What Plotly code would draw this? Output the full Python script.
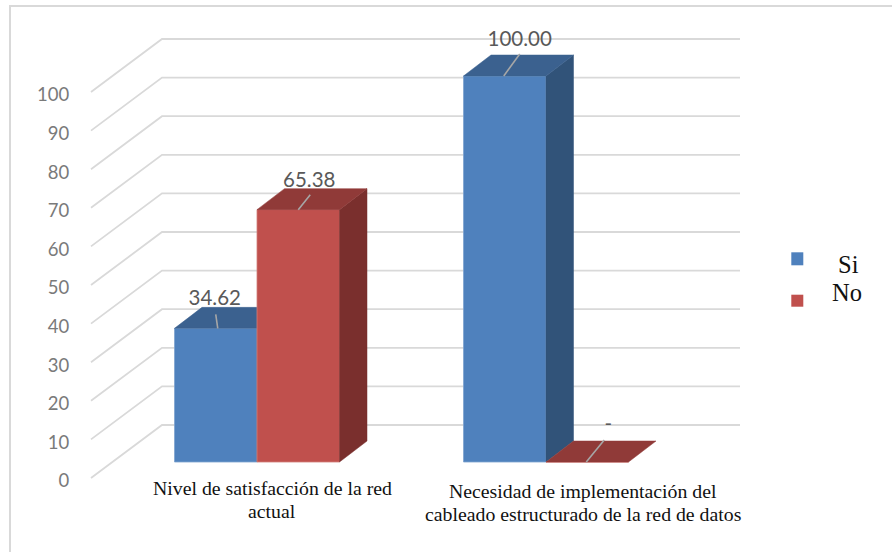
import plotly.graph_objects as go

# ---- data ----
categories = ["Nivel de satisfacción de la red<br>actual",
              "Necesidad de implementación del<br>cableado estructurado de la red de datos"]
series_si = [34.62, 100.00]
series_no = [65.38, 0.00]
labels_si = ["34.62", "100.00"]
labels_no = ["65.38", "-"]
tick_values = list(range(0, 101, 10))

# ---- page geometry (the plot area fills the page, so scales are px per unit) ----
W, H = 892, 552
GROUP0_PX, GROUP_STEP_PX = 257.0, 289.0
PX_PER_VALUE = 3.86
BAR_PLANE_ZERO_PX = 462.0
WALL_ZERO_PX = 478.0


def cat_x(px):
    return (px - GROUP0_PX) / GROUP_STEP_PX


def px_x(dpx):
    return dpx / GROUP_STEP_PX


def px_v(dpx):
    return dpx / PX_PER_VALUE


BAR_W = 82.5 / GROUP_STEP_PX
DEPTH_X = px_x(27.5)
DEPTH_V = px_v(21.0)
WALL_X0, WALL_X1, WALL_X2 = cat_x(91), cat_x(162), cat_x(740)
WALL_RISE = px_v(53.0)

x_range = [cat_x(0), cat_x(W)]
bar_y_range = [(BAR_PLANE_ZERO_PX - H) / PX_PER_VALUE, BAR_PLANE_ZERO_PX / PX_PER_VALUE]
wall_y_range = [(WALL_ZERO_PX - H) / PX_PER_VALUE, WALL_ZERO_PX / PX_PER_VALUE]

# ---- colours ----
GRID = "#d9d9d9"
BLUE, BLUE_TOP, BLUE_SIDE = "#4f81bd", "#3b618f", "#315379"
RED, RED_TOP, RED_SIDE = "#c0504d", "#903a38", "#7a2f2d"

fig = go.Figure()

# Wall grid: a diagonal up the side wall, then a line along the back wall
gx, gy = [], []
for t in tick_values:
    gx += [WALL_X0, WALL_X1, WALL_X2, None]
    gy += [t, t + WALL_RISE, t + WALL_RISE, None]
fig.add_trace(go.Scatter(x=gx, y=gy, mode="lines", yaxis="y",
                         line=dict(color=GRID, width=1.8),
                         hoverinfo="skip", showlegend=False))


def add_series(values, offset, front, top, side, yaxis):
    """Front faces as bars, with top and side faces projected from the same values."""
    fig.add_trace(go.Bar(x=[0, 1], y=values, width=BAR_W, offset=offset, yaxis=yaxis,
                         marker=dict(color=front, line=dict(color="#7fa3cf" if front == BLUE else "#d27d7a", width=0.8)),
                         hoverinfo="skip", showlegend=False))
    for i, v in enumerate(values):
        x0, x1 = i + offset, i + offset + BAR_W
        if v > 0:
            fig.add_trace(go.Scatter(
                x=[x1, x1 + DEPTH_X, x1 + DEPTH_X, x1, x1],
                y=[0, DEPTH_V, v + DEPTH_V, v, 0],
                mode="lines", fill="toself", fillcolor=side, yaxis=yaxis,
                line=dict(color=side, width=0.5), hoverinfo="skip", showlegend=False))
        fig.add_trace(go.Scatter(
            x=[x0, x1, x1 + DEPTH_X, x0 + DEPTH_X, x0],
            y=[v, v, v + DEPTH_V, v + DEPTH_V, v],
            mode="lines", fill="toself", fillcolor=top, yaxis=yaxis,
            line=dict(color=top, width=0.5), hoverinfo="skip", showlegend=False))


add_series(series_si, -BAR_W, BLUE, BLUE_TOP, BLUE_SIDE, "y2")
add_series(series_no, 0.0, RED, RED_TOP, RED_SIDE, "y3")

# Value labels with their leader lines, placed relative to each bar's top
# (start dx, end dx, end rise, label dx, label rise) in pixels from the bar centre
label_rows = [
    (series_si[0], labels_si[0], -BAR_W / 2, (2, 0, 14, -1, 28)),
    (series_no[0], labels_no[0], BAR_W / 2, (0, 12, 15, 11, 28)),
    (series_si[1], labels_si[1], 1 - BAR_W / 2, (-1, 15, 22, 15, 35)),
    (series_no[1], labels_no[1], 1 + BAR_W / 2, (-1, 17, 22, 21, 36)),
]
for v, txt, cx, (sdx, edx, rise, ldx, lrise) in label_rows:
    fig.add_trace(go.Scatter(x=[cx + px_x(sdx), cx + px_x(edx)], y=[v, v + px_v(rise)],
                             mode="lines", yaxis="y3",
                             line=dict(color="#a6a6a6", width=1.6),
                             hoverinfo="skip", showlegend=False))
    fig.add_trace(go.Scatter(x=[cx + px_x(ldx)], y=[v + px_v(lrise)], mode="text",
                             text=[txt], textposition="middle center", yaxis="y3",
                             textfont=dict(family="Lato", size=20.5, color="#595959"),
                             hoverinfo="skip", showlegend=False))

# Category captions, one annotation per line
caption_anchor = [(272, 488), (583, 491)]
LINE_PX = 23
annotations = []
for cat, (cx, cy) in zip(categories, caption_anchor):
    for n, part in enumerate(cat.split("<br>")):
        annotations.append(dict(
            x=cx / W, y=1 - (cy + n * LINE_PX) / H, xref="paper", yref="paper",
            text=part, showarrow=False, xanchor="center", yanchor="middle",
            font=dict(family="Liberation Serif", size=19.8, color="#111111")))

# Legend entries
annotations += [
    dict(x=848 / W, y=1 - 264 / H, xref="paper", yref="paper", text="Si", showarrow=False,
         xanchor="center", yanchor="middle",
         font=dict(family="Liberation Serif", size=24.5, color="#111111")),
    dict(x=846.5 / W, y=1 - 292 / H, xref="paper", yref="paper", text="No", showarrow=False,
         xanchor="center", yanchor="middle",
         font=dict(family="Liberation Serif", size=24.5, color="#111111")),
]


def paper_rect(x0, y0, x1, y1, **kw):
    return dict(type="rect", xref="paper", yref="paper", x0=x0 / W, x1=x1 / W,
                y0=1 - y1 / H, y1=1 - y0 / H, **kw)


shapes = [
    paper_rect(10, 6, W + 20, H + 20, line=dict(color=GRID, width=2), layer="below"),
    paper_rect(791.3, 252.3, 803.3, 265.3, fillcolor=BLUE, line=dict(width=0)),
    paper_rect(791.3, 294.7, 803.3, 306.7, fillcolor=RED, line=dict(width=0)),
]

hidden_y = dict(range=bar_y_range, visible=False, overlaying="y", fixedrange=True)
fig.update_layout(
    width=W, height=H, autosize=False,
    margin=dict(l=0, r=0, t=0, b=0),
    paper_bgcolor="white", plot_bgcolor="rgba(0,0,0,0)",
    showlegend=False, barmode="overlay",
    annotations=annotations, shapes=shapes,
    xaxis=dict(range=x_range, visible=False, domain=[0, 1], fixedrange=True),
    yaxis=dict(range=wall_y_range, anchor="free", position=91 / W, tickvals=tick_values,
               showgrid=False, zeroline=False, showline=False,
               ticks="outside", ticklen=18, tickcolor="rgba(0,0,0,0)",
               ticklabelshift=3,
               tickfont=dict(family="Lato", size=18.5, color="#7a7a7a"), fixedrange=True),
    yaxis2=hidden_y,
    yaxis3=hidden_y,
)

fig.write_html("out.html", config=dict(displayModeBar=False))
